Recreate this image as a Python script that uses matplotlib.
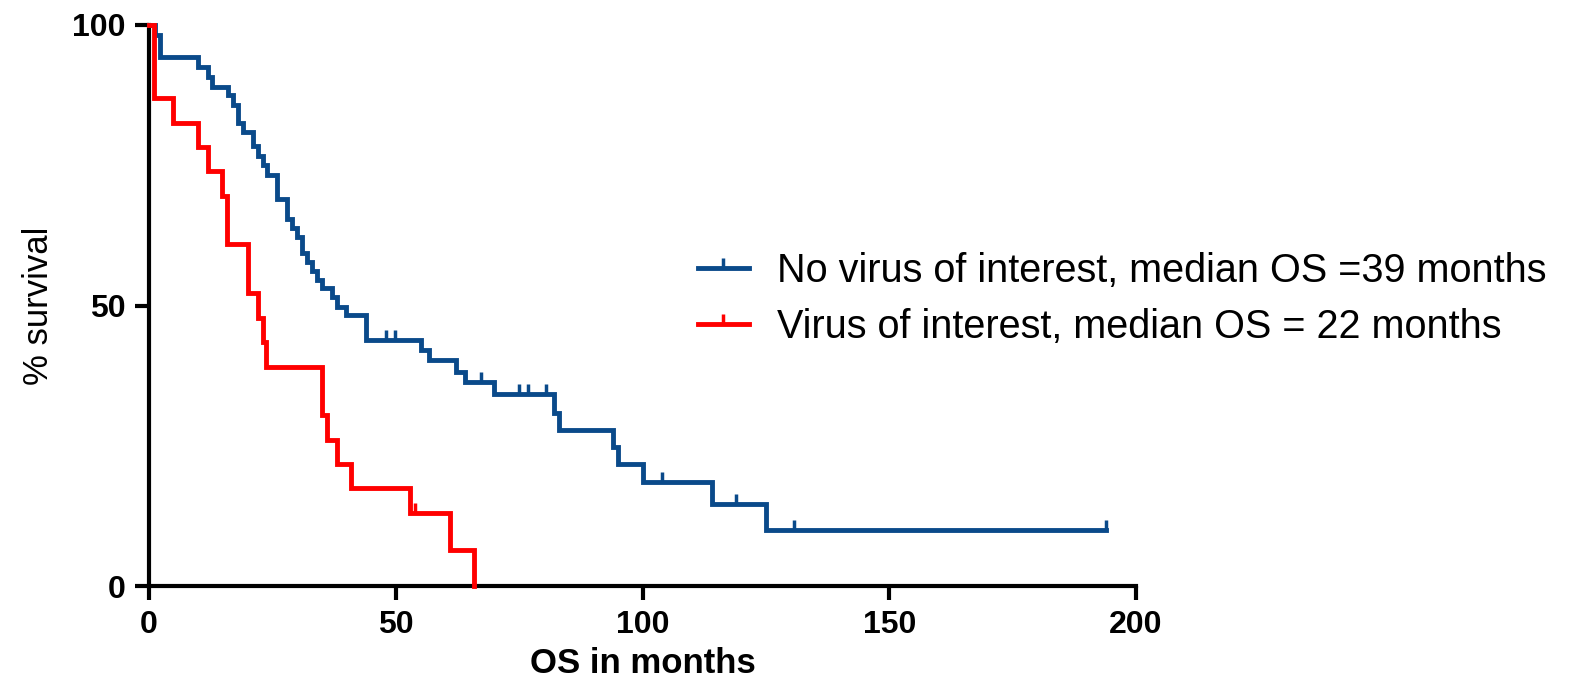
import matplotlib
matplotlib.use("Agg")
import matplotlib.pyplot as plt
from matplotlib.lines import Line2D

# Kaplan-Meier steps (months, % survival)
no_virus_t = [0, 1.2, 2.2, 10, 12, 12.8, 16, 17, 18, 19, 21, 22, 23, 24, 26, 28, 29, 30, 31, 32,
              33, 34, 35, 37, 38, 40, 44, 55.2, 56.8, 62.3, 64, 70, 82, 83, 94, 95, 100, 114, 125, 194]
no_virus_s = [100, 98.2, 94.3, 92.5, 90.7, 89.0, 87.5, 85.8, 82.5, 81.0, 78.5, 76.7, 75.0, 73.3, 68.9,
              65.4, 63.8, 62.2, 59.4, 57.8, 56.2, 54.6, 53.2, 51.6, 49.8, 48.3, 43.9, 42.1, 40.3, 38.1,
              36.4, 34.2, 30.8, 27.8, 24.8, 21.7, 18.5, 14.6, 10.0, 10.0]
no_virus_cens_t = [48.1, 49.9, 67.3, 75, 76.8, 80.5, 104, 119, 130.8, 194]
no_virus_cens_s = [43.9, 43.9, 36.4, 34.2, 34.2, 34.2, 18.5, 14.6, 10.0, 10.0]

virus_t = [0, 1, 4.9, 9.9, 11.9, 14.8, 15.8, 20, 22, 23, 23.7, 35, 36, 38, 41, 52.8, 60.9, 65.9]
virus_s = [100, 87.0, 82.6, 78.3, 73.9, 69.6, 60.9, 52.2, 47.8, 43.5, 39.1, 30.4, 26.1, 21.7, 17.4,
           13.0, 6.5, 0]
virus_cens_t = [53.8]
virus_cens_s = [13.0]

labels = ["No virus of interest, median OS =39 months",
          "Virus of interest, median OS = 22 months"]
blue = "#0a4a8a"
red = "#ff0000"
narrow = ["Liberation Sans Narrow", "Liberation Sans", "DejaVu Sans"]

fig = plt.figure(figsize=(15.75, 6.82), dpi=100)
ax = fig.add_axes([149 / 1575, 1 - 586 / 682, (1136 - 149) / 1575, (586 - 25) / 682])

ax.step(no_virus_t, no_virus_s, where="post", color=blue, lw=3.5, solid_joinstyle="miter", zorder=3)
ax.step(virus_t, virus_s, where="post", color=red, lw=3.5, solid_joinstyle="miter", zorder=3)
ax.plot(no_virus_cens_t, no_virus_cens_s, ls="none", marker=2, ms=7, mew=2.5, color=blue, zorder=3)
ax.plot(virus_cens_t, virus_cens_s, ls="none", marker=2, ms=7, mew=2.5, color=red, zorder=3)

ax.set_xlim(0, 200)
ax.set_ylim(0, 100)
ax.set_xticks([0, 50, 100, 150, 200])
ax.set_yticks([0, 50, 100])
for side in ["top", "right"]:
    ax.spines[side].set_visible(False)
for side in ["left", "bottom"]:
    ax.spines[side].set_linewidth(3)
ax.tick_params(direction="out", length=10, width=3, pad=7)
for lab in ax.get_xticklabels() + ax.get_yticklabels():
    lab.set_fontfamily(narrow)
    lab.set_fontweight("bold")
    lab.set_fontsize(23)

ax.set_xlabel("OS in months", fontsize=25, fontweight="bold", family=narrow, labelpad=5)
ax.set_ylabel("% survival", fontsize=25, family=narrow, labelpad=12)
for ln in ax.lines:
    ln.set_clip_on(False)

handles = [Line2D([], [], color=c, lw=3.5, marker=2, ms=7, mew=2.5) for c in (blue, red)]
fig.legend(handles, labels, loc="center left", bbox_to_anchor=(662 / 1575, 1 - 299 / 682),
           frameon=False, prop={"family": narrow, "size": 28.5}, handlelength=1.3,
           handletextpad=0.7, labelspacing=0.45, numpoints=1)

fig.savefig("out.png", dpi=100)
